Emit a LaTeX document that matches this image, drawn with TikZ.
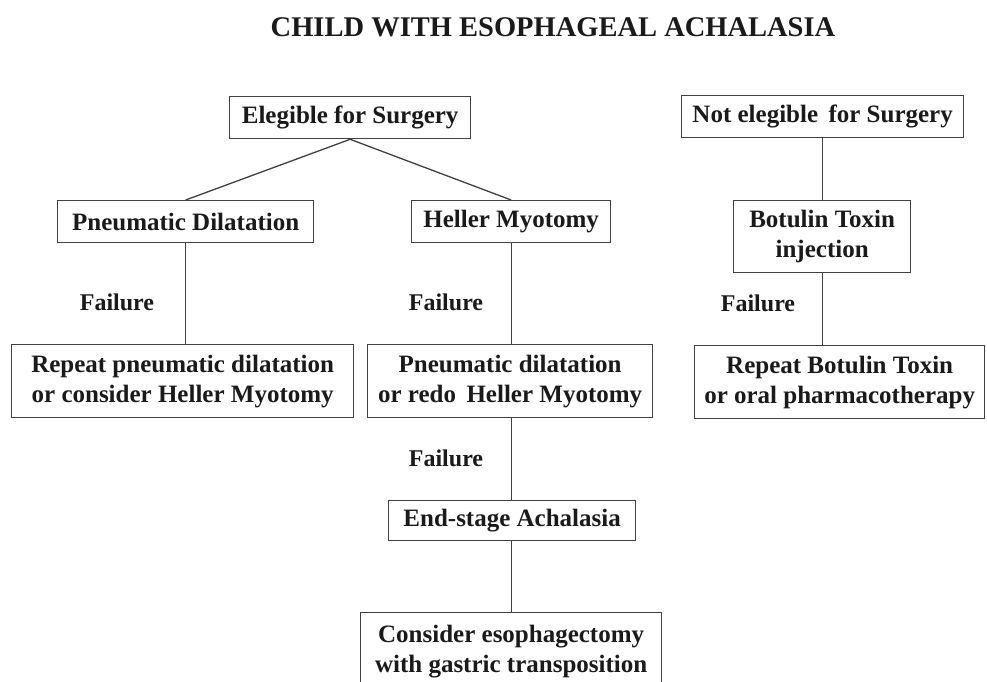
\documentclass[tikz,border=0pt]{standalone}
\usepackage{fontspec}
\setmainfont{Liberation Serif}
\definecolor{inkc}{HTML}{1A1A1A}
\definecolor{linec}{HTML}{404040}
\begin{document}
\begin{tikzpicture}[x=1pt,y=-1pt,
  every node/.style={text=inkc,font=\fontsize{25}{30}\selectfont\bfseries},
  box/.style={draw=linec,line width=1.3pt,inner sep=0pt,align=center,anchor=north west},
  link/.style={draw=linec,line width=1.3pt},
  faillabel/.style={inner sep=0pt,font=\fontsize{24}{29}\selectfont\bfseries}]
\useasboundingbox (0,0) rectangle (987,682);

% title
\node[font=\fontsize{28.5}{34}\selectfont\bfseries] (title) at (553,27) {CHILD WITH ESOPHAGEAL ACHALASIA};

% boxes (north-west corner, width, height)
\node[box,minimum width=241pt,minimum height=42pt] (elig) at (229,96) {Elegible for Surgery};
\node[box,minimum width=282pt,minimum height=42pt] (notelig) at (681,95) {Not elegible\, for Surgery};
\node[box,minimum width=256pt,minimum height=42pt] (pneu) at (57,200) {Pneumatic Dilatation};
\node[box,minimum width=199pt,minimum height=42pt] (heller) at (411,200) {Heller Myotomy};
\node[box,minimum width=177pt,minimum height=72pt] (botox) at (733,200) {Botulin Toxin\\injection};
\node[box,minimum width=342pt,minimum height=73pt] (reppneu) at (11,344) {Repeat pneumatic dilatation\\or consider Heller Myotomy};
\node[box,minimum width=285pt,minimum height=73pt] (redo) at (367,344) {Pneumatic dilatation\\or redo\, Heller Myotomy};
\node[box,minimum width=290pt,minimum height=73pt] (repbot) at (694,345) {Repeat Botulin Toxin\\or oral pharmacotherapy};
\node[box,minimum width=247pt,minimum height=40pt] (endst) at (388,500) {End-stage Achalasia};
% lower edge of this box runs below the page
\node[box,minimum width=301pt,minimum height=78pt] (consid) at (360,612) {Consider esophagectomy\\with gastric transposition};

% failure labels
\node[faillabel] (f1) at (117,302) {Failure};
\node[faillabel] (f2) at (446,302) {Failure};
\node[faillabel] (f3) at (758,303) {Failure};
\node[faillabel] (f4) at (446,458) {Failure};

% connectors
\draw[link] (elig.south) -- (pneu.north);
\draw[link] (elig.south) -- (heller.north);
\draw[link] (pneu.south) -- (pneu.south |- reppneu.north);
\draw[link] (heller.south) -- (heller.south |- redo.north);
\draw[link] (notelig.south) -- (notelig.south |- botox.north);
\draw[link] (notelig.south |- botox.south) -- (notelig.south |- repbot.north);
\draw[link] (heller.south |- redo.south) -- (heller.south |- endst.north);
\draw[link] (heller.south |- endst.south) -- (heller.south |- consid.north);
\end{tikzpicture}
\end{document}
